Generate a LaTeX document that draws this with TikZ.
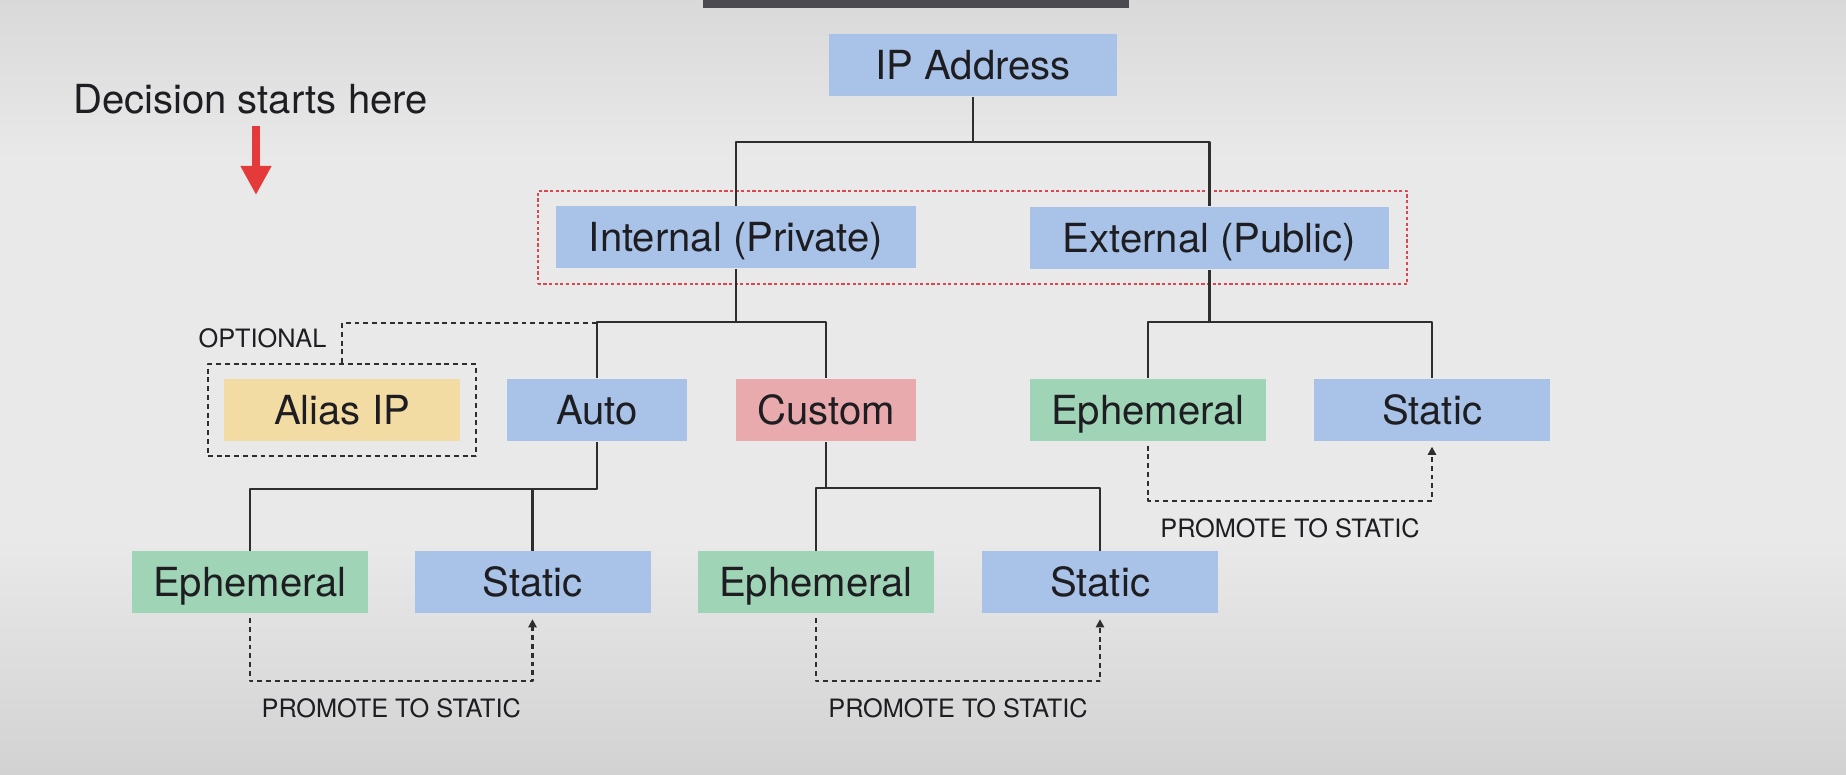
\documentclass[tikz,border=0pt]{standalone}
\usepackage{fontspec}
\setmainfont{TeX Gyre Heros}
\usetikzlibrary{arrows.meta,positioning,fit}
\definecolor{ipblue}{HTML}{A9C3E8}
\definecolor{ipgreen}{HTML}{9FD4B6}
\definecolor{ipred}{HTML}{E8AAAD}
\definecolor{ipyellow}{HTML}{F2DCA4}
\definecolor{inktext}{HTML}{1E1E22}
\definecolor{linkgray}{HTML}{2E2E2E}
\definecolor{markred}{HTML}{E53A3A}
\definecolor{framered}{HTML}{D9474F}
\definecolor{barcol}{HTML}{4A4A50}
\definecolor{bgmid}{HTML}{E9E9E9}
\definecolor{bgtop}{HTML}{D9D9D9}
\definecolor{bgbot}{HTML}{D2D2D2}
\tikzset{
	ipbox/.style={inner sep=0pt,minimum height=0.62cm,text height=0.29cm,text depth=0cm,
		text=inktext,font=\fontsize{11.4pt}{13pt}\selectfont},
	bigtxt/.style={inner sep=0pt,text height=0.29cm,text depth=0cm,text=inktext,
		font=\fontsize{11.4pt}{13pt}\selectfont},
	smalltxt/.style={inner sep=0pt,text=inktext,font=\fontsize{7.2pt}{8.5pt}\selectfont},
	link/.style={draw=linkgray,line width=0.65pt},
	optline/.style={draw=linkgray,line width=0.65pt,dash pattern=on 1.4pt off 1.1pt},
	promo/.style={optline,-{Triangle[length=2.3pt,width=2.3pt]}},
	redframe/.style={draw=framered,line width=0.5pt,dash pattern=on 0.9pt off 0.7pt},
	redarr/.style={draw=markred,line width=2.3pt,-{Triangle[length=2.9mm,width=2.9mm]}}
}
\begin{document}
\begin{tikzpicture}[line join = round, line cap = butt,>=stealth,scale=1]
	%Hình: chọn địa chỉ IP
	\useasboundingbox (0,0) rectangle (18.46,-7.75);
	\fill[bgmid] (0,0) rectangle (18.46,-7.75);
	\shade[top color=bgtop,bottom color=bgmid] (0,0) rectangle (18.46,-1.6);
	\shade[top color=bgmid,bottom color=bgbot] (0,-5.4) rectangle (18.46,-7.75);
	\fill[barcol] (7.03,0) rectangle (11.29,-0.08);
	\node[bigtxt] (dec) at (2.505,-0.99) {Decision starts here};
	\coordinate (dectip) at (2.56,-1.95);
	\draw[redarr] ([yshift=-0.12cm]dec.south -| dectip) -- (dectip);
	% cac hop
	\node[ipbox,fill=ipblue,minimum width=2.88cm] (ip) at (9.73,-0.655) {IP Address};
	\node[ipbox,fill=ipblue,minimum width=3.60cm] (int) at (7.36,-2.375) {Internal (Private)};
	\node[ipbox,fill=ipblue,minimum width=3.59cm] (ext) at (12.095,-2.38) {External (Public)};
	\node[ipbox,fill=ipyellow,minimum width=2.36cm] (alias) at (3.42,-4.10) {Alias IP};
	\node[ipbox,fill=ipblue,minimum width=1.80cm] (auto) at (5.97,-4.10) {Auto};
	\node[ipbox,fill=ipred,minimum width=1.80cm] (cust) at (8.26,-4.10) {Custom};
	\node[ipbox,fill=ipgreen,minimum width=2.36cm] (eph3) at (11.48,-4.10) {Ephemeral};
	\node[ipbox,fill=ipblue,minimum width=2.36cm] (sta3) at (14.32,-4.10) {Static};
	\foreach \n/\c/\x/\t in {eph1/ipgreen/2.50/Ephemeral,sta1/ipblue/5.325/Static,eph2/ipgreen/8.16/Ephemeral,sta2/ipblue/11.00/Static}
	\node[ipbox,fill=\c,minimum width=2.36cm] (\n) at (\x,-5.825) {\t};
	\node[redframe,fit=(int)(ext),inner xsep=0.175cm,inner ysep=0.145cm] (pubpriv) {};
	\node[optline,fit=(alias),inner xsep=0.155cm,inner ysep=0.14cm] (optf) {};
	\node[smalltxt] (opt) at (2.625,-3.38) {OPTIONAL};
	% cac duong noi
	\coordinate (ipb) at (9.73,-1.42);
	\coordinate (inb) at (7.36,-3.23);
	\coordinate (exb) at (12.095,-3.23);
	\coordinate (aub) at (5.97,-4.89);
	\coordinate (cub) at (8.26,-4.89);
	\draw[link] (ip) -- (ipb);
	\draw[link] (int.north) |- (ipb) -| (ext.north);
	\draw[link] (int) -- (inb);
	\draw[link] (auto.north) -- ++(0,0.56) -| (cust.north);
	\draw[optline] (optf.north) |- (auto.north |- inb);
	\draw[link] (ext) -- (exb);
	\draw[link] (eph3.north) -- ++(0,0.56) -| (sta3.north);
	\draw[link] (auto) -- (aub) -| (eph1.north);
	\draw[link] (sta1.north) -- (sta1.north |- aub);
	\draw[link] (cust) -- (cub);
	\draw[link] (eph2.north) -- ++(0,0.63) -| (sta2.north);
	\foreach \a/\b/\d in {eph1/sta1/0.63,eph2/sta2/0.63,eph3/sta3/0.55}
	\draw[promo] ([yshift=-0.04cm]\a.south) -- ++(0,-\d) -| node[pos=.25,below=0.165cm,smalltxt] (pt\a) {PROMOTE TO STATIC} ([yshift=-0.05cm]\b.south);
\end{tikzpicture}
\end{document}
